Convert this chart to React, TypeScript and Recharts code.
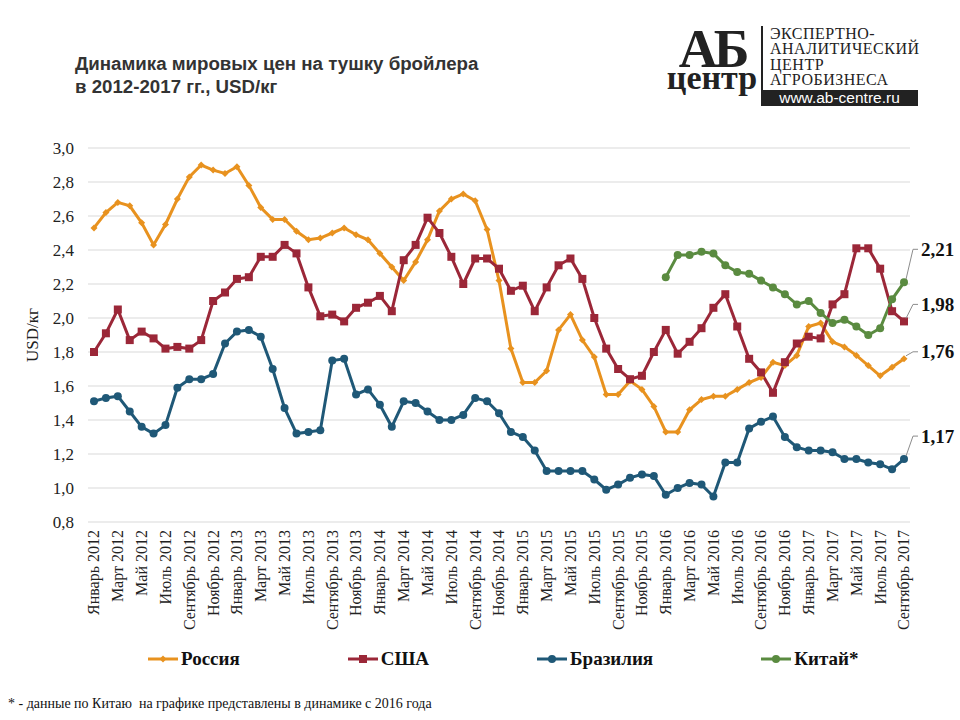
import { CartesianGrid, Line, LineChart, XAxis, YAxis } from "recharts";

const MONTHS = [
  "Январь", "Февраль", "Март", "Апрель", "Май", "Июнь",
  "Июль", "Август", "Сентябрь", "Октябрь", "Ноябрь", "Декабрь",
];
const YEARS = [2012, 2013, 2014, 2015, 2016, 2017];
const MONTH_COUNT = 69; // январь 2012 – сентябрь 2017

const RUSSIA = [
  2.53, 2.62, 2.68, 2.66, 2.56, 2.43, 2.55, 2.7, 2.83, 2.9, 2.87, 2.85,
  2.89, 2.78, 2.65, 2.58, 2.58, 2.51, 2.46, 2.47, 2.5, 2.53, 2.49, 2.46,
  2.38, 2.3, 2.22, 2.33, 2.46, 2.63, 2.7, 2.73, 2.69, 2.52, 2.22, 1.82,
  1.62, 1.62, 1.69, 1.93, 2.02, 1.87, 1.77, 1.55, 1.55, 1.63, 1.58, 1.48,
  1.33, 1.33, 1.46, 1.52, 1.54, 1.54, 1.58, 1.62, 1.65, 1.74, 1.72, 1.78,
  1.95, 1.97, 1.86, 1.83, 1.78, 1.72, 1.66, 1.71, 1.76,
];

const USA = [
  1.8, 1.91, 2.05, 1.87, 1.92, 1.88, 1.82, 1.83, 1.82, 1.87, 2.1, 2.15,
  2.23, 2.24, 2.36, 2.36, 2.43, 2.38, 2.18, 2.01, 2.02, 1.98, 2.06, 2.09,
  2.13, 2.04, 2.34, 2.43, 2.59, 2.5, 2.36, 2.2, 2.35, 2.35, 2.29, 2.16,
  2.19, 2.04, 2.18, 2.31, 2.35, 2.23, 2.0, 1.82, 1.7, 1.64, 1.66, 1.8,
  1.93, 1.79, 1.86, 1.94, 2.06, 2.14, 1.95, 1.76, 1.68, 1.56, 1.74, 1.85,
  1.89, 1.88, 2.08, 2.14, 2.41, 2.41, 2.29, 2.04, 1.98,
];

const BRAZIL = [
  1.51, 1.53, 1.54, 1.45, 1.36, 1.32, 1.37, 1.59, 1.64, 1.64, 1.67, 1.85,
  1.92, 1.93, 1.89, 1.7, 1.47, 1.32, 1.33, 1.34, 1.75, 1.76, 1.55, 1.58,
  1.49, 1.36, 1.51, 1.5, 1.45, 1.4, 1.4, 1.43, 1.53, 1.51, 1.44, 1.33,
  1.3, 1.22, 1.1, 1.1, 1.1, 1.1, 1.05, 0.99, 1.02, 1.06, 1.08, 1.07,
  0.96, 1.0, 1.03, 1.02, 0.95, 1.15, 1.15, 1.35, 1.39, 1.42, 1.3, 1.24,
  1.22, 1.22, 1.21, 1.17, 1.17, 1.15, 1.14, 1.11, 1.17,
];

// Китай: данные с января 2016
const CHINA_START = 48;
const CHINA = [
  2.24, 2.37, 2.37, 2.39, 2.38, 2.31, 2.27, 2.26, 2.22, 2.18, 2.14, 2.08,
  2.1, 2.03, 1.97, 1.99, 1.95, 1.9, 1.94, 2.11, 2.21,
];

const Y_TICKS = [0.8, 1.0, 1.2, 1.4, 1.6, 1.8, 2.0, 2.2, 2.4, 2.6, 2.8, 3.0];

const LABELS: string[] = [];
YEARS.forEach((year) => {
  MONTHS.forEach((month) => {
    if (LABELS.length < MONTH_COUNT) LABELS.push(`${month} ${year}`);
  });
});

const data = LABELS.map((label, i) => ({
  label,
  russia: RUSSIA[i],
  usa: USA[i],
  brazil: BRAZIL[i],
  china: i >= CHINA_START ? CHINA[i - CHINA_START] : null,
}));

const SERIF = "'Liberation Serif', 'DejaVu Serif', serif";
const SANS = "'Liberation Sans', Arial, sans-serif";

type Shape = "diamond" | "square" | "circle";

const SERIES: { key: string; name: string; color: string; shape: Shape; labelDy: number }[] = [
  { key: "russia", name: "Россия", color: "#E8921F", shape: "diamond", labelDy: -7 },
  { key: "usa", name: "США", color: "#9B2738", shape: "square", labelDy: -17 },
  { key: "brazil", name: "Бразилия", color: "#1F5877", shape: "circle", labelDy: -23 },
  { key: "china", name: "Китай*", color: "#5A8B40", shape: "circle", labelDy: -33 },
];

const fmt = (v: number) => v.toFixed(2).replace(".", ",");

function marker(shape: Shape, color: string, cx: number, cy: number, key?: string | number) {
  if (shape === "square") {
    return <rect key={key} x={cx - 4} y={cy - 4} width={8} height={8} fill={color} />;
  }
  if (shape === "diamond") {
    return (
      <path
        key={key}
        d={`M${cx} ${cy - 3.5} L${cx + 3.5} ${cy} L${cx} ${cy + 3.5} L${cx - 3.5} ${cy} Z`}
        fill={color}
      />
    );
  }
  return <circle key={key} cx={cx} cy={cy} r={4} fill={color} />;
}

function XTick({ x, y, payload }: any) {
  return (
    <text
      x={x}
      y={y}
      transform={`rotate(-90 ${x} ${y})`}
      textAnchor="end"
      dy="0.34em"
      fontFamily={SERIF}
      fontSize={16}
      fill="#222"
    >
      {payload.value}
    </text>
  );
}

function makeLastLabel(dy: number) {
  return (props: any) => {
    const { x, y, index, value } = props;
    if (index !== MONTH_COUNT - 1 || value == null) return <g key={`l-${index}`} />;
    const ty = y + dy;
    return (
      <g key={`l-${index}`}>
        <polyline
          points={`${x + 2},${y - 3} ${x + 9},${ty} ${x + 14},${ty}`}
          fill="none"
          stroke="#8c8c8c"
          strokeWidth={1}
        />
        <text
          x={x + 17}
          y={ty}
          dy="0.35em"
          fontFamily={SERIF}
          fontSize={19}
          fontWeight="bold"
          fill="#111"
        >
          {fmt(value)}
        </text>
      </g>
    );
  };
}

function Logo() {
  return (
    <div style={{ position: "absolute", left: 664, top: 22, width: 256, height: 88 }}>
      {/* АБ над "центр" — один текстовый блок */}
      <div
        style={{
          position: "absolute",
          left: 2,
          top: 10,
          width: 92,
          textAlign: "center",
          fontFamily: SERIF,
          fontWeight: "bold",
          color: "#222",
          lineHeight: "34px",
        }}
      >
        <span style={{ fontSize: 54, letterSpacing: -4 }}>АБ</span>
        <br />
        <span style={{ fontSize: 34, lineHeight: "20px", position: "relative", top: -12 }}>центр</span>
      </div>
      <div style={{ position: "absolute", left: 97, top: 4, width: 2, height: 66, background: "#222" }} />
      <div
        style={{
          position: "absolute",
          left: 106,
          top: 4,
          fontFamily: SERIF,
          fontSize: 16,
          lineHeight: "15.3px",
          letterSpacing: 0.5,
          color: "#222",
        }}
      >
        ЭКСПЕРТНО-
        <br />
        АНАЛИТИЧЕСКИЙ
        <br />
        ЦЕНТР
        <br />
        АГРОБИЗНЕСА
      </div>
      <div
        style={{
          position: "absolute",
          left: 97,
          top: 68,
          width: 157,
          height: 16,
          background: "#222",
          color: "#fff",
          fontFamily: SANS,
          fontSize: 15.5,
          lineHeight: "16px",
          textAlign: "center",
        }}
      >
        www.ab-centre.ru
      </div>
    </div>
  );
}

function LegendRow() {
  return (
    <div
      style={{
        position: "absolute",
        left: 148,
        top: 648,
        display: "flex",
        gap: 108,
        fontFamily: SERIF,
        fontWeight: "bold",
        fontSize: 19,
        color: "#111",
      }}
    >
      {SERIES.map((s) => (
        <div key={s.key} style={{ display: "flex", alignItems: "center" }}>
          <svg width={30} height={12} style={{ marginRight: 3 }}>
            <line x1={0} y1={6} x2={30} y2={6} stroke={s.color} strokeWidth={3} />
            {marker(s.shape, s.color, 15, 6)}
          </svg>
          <span>{s.name}</span>
        </div>
      ))}
    </div>
  );
}

export default function App() {
  return (
    <div
      style={{
        position: "absolute",
        left: 0,
        top: 0,
        width: 960,
        height: 720,
        background: "#fff",
        overflow: "hidden",
      }}
    >
      <div style={{ position: "absolute", left: 0, top: 0 }}>
        <LineChart width={960} height={720} data={data} margin={{ top: 148, right: 50, left: 0, bottom: 73 }}>
          <CartesianGrid vertical={false} stroke="#d9d9d9" strokeWidth={1.2} />
          <XAxis
            dataKey="label"
            scale="point"
            padding={{ left: 6, right: 6 }}
            interval={1}
            height={125}
            axisLine={false}
            tickLine={false}
            tick={<XTick />}
          />
          <YAxis
            type="number"
            domain={[0.8, 3.0]}
            ticks={Y_TICKS}
            width={88}
            axisLine={false}
            tickLine={false}
            tickMargin={8}
            tickFormatter={(v: number) => v.toFixed(1).replace(".", ",")}
            tick={{ fontFamily: SERIF, fontSize: 17, fill: "#222" }}
            label={(props: any) => {
              const vb = props.viewBox || { y: 148, height: 374 };
              const cy = vb.y + vb.height / 2;
              return (
                <text
                  x={32}
                  y={cy}
                  transform={`rotate(-90 32 ${cy})`}
                  textAnchor="middle"
                  dy="0.35em"
                  fontFamily={SERIF}
                  fontSize={17}
                  fill="#222"
                >
                  USD/кг
                </text>
              );
            }}
          />
          {SERIES.map((s) => (
            <Line
              key={s.key}
              dataKey={s.key}
              name={s.name}
              stroke={s.color}
              strokeWidth={3}
              type="linear"
              isAnimationActive={false}
              dot={(p: any) =>
                p.cx == null || p.cy == null || p.value == null ? (
                  <g key={`d-${s.key}-${p.index}`} />
                ) : (
                  marker(s.shape, s.color, p.cx, p.cy, `d-${s.key}-${p.index}`)
                )
              }
              activeDot={false}
              label={makeLastLabel(s.labelDy)}
            />
          ))}
        </LineChart>
      </div>

      <div
        style={{
          position: "absolute",
          left: 75,
          top: 52,
          fontFamily: SANS,
          fontWeight: "bold",
          fontSize: 18.7,
          lineHeight: "23px",
          color: "#333",
        }}
      >
        Динамика мировых цен на тушку бройлера
        <br />
        в 2012-2017 гг., USD/кг
      </div>

      <Logo />
      <LegendRow />

      <div
        style={{
          position: "absolute",
          left: 8,
          top: 696,
          fontFamily: SERIF,
          fontSize: 14,
          color: "#111",
          whiteSpace: "pre",
        }}
      >
        {"* - данные по Китаю  на графике представлены в динамике с 2016 года"}
      </div>
    </div>
  );
}
